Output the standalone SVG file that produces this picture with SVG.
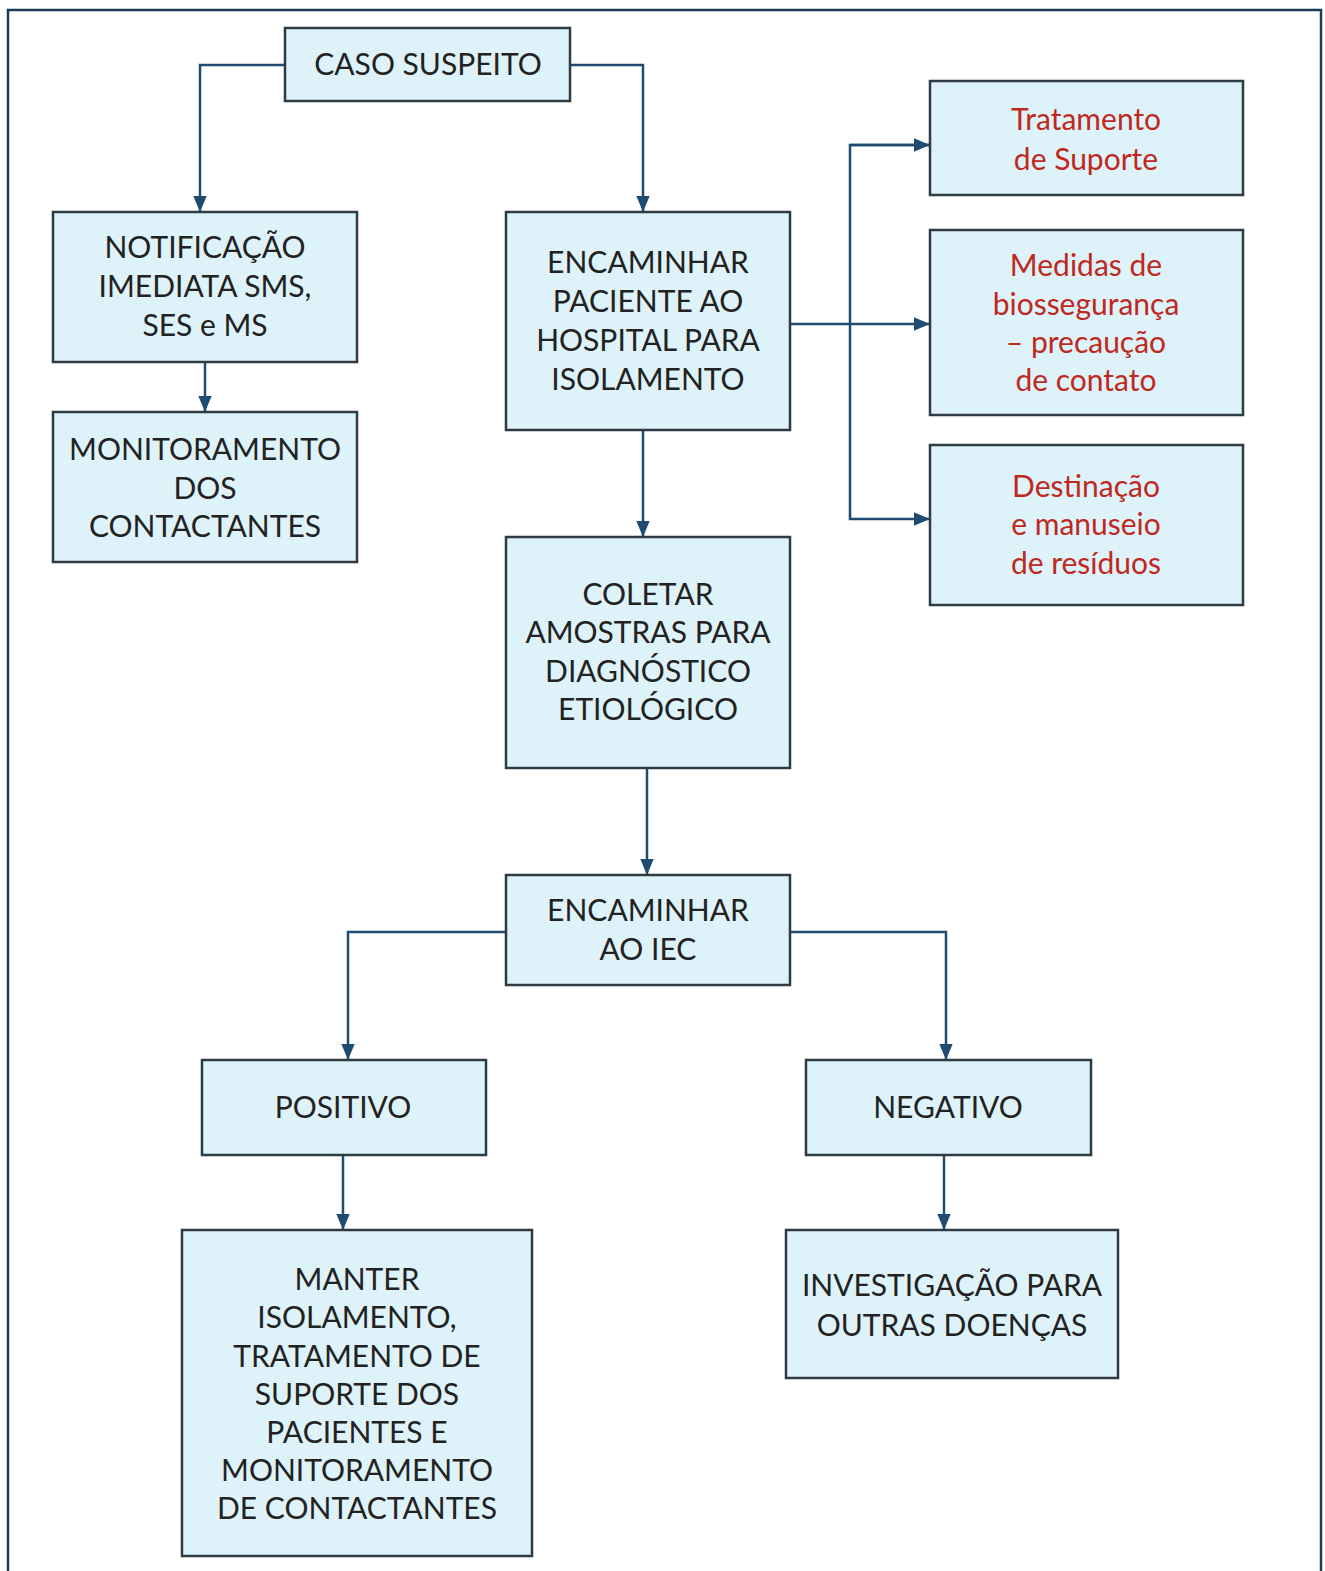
<svg xmlns="http://www.w3.org/2000/svg" width="1325" height="1571" viewBox="0 0 1325 1571">
<defs>
<style>
.box{fill:#def2f9;stroke:#2e3b45;stroke-width:2.5}
.t{font-family:Lato,"Open Sans",sans-serif;font-size:30px;fill:#222;text-anchor:middle}
.r{fill:#c0281e}
.c{fill:none;stroke:#1f4c70;stroke-width:2.5}
</style>
<marker id="a" viewBox="0 0 12 12" refX="12" refY="6" markerWidth="16" markerHeight="16" markerUnits="userSpaceOnUse" orient="auto">
<path d="M0,1 L12,6 L0,11 z" fill="#1f4c70"/>
</marker>
</defs>
<rect width="1325" height="1571" fill="#fff"/>
<path d="M8,1571 V10 H1321 V1571" fill="none" stroke="#1c3a5a" stroke-width="2.5"/>

<g id="connectors">
<path class="c" d="M285,65 H200 V212" marker-end="url(#a)"/>
<path class="c" d="M570,65 H643 V212" marker-end="url(#a)"/>
<path class="c" d="M205,362 V412" marker-end="url(#a)"/>
<path class="c" d="M643,430 V537" marker-end="url(#a)"/>
<path class="c" d="M790,324 H930" marker-end="url(#a)"/>
<path class="c" d="M930,145 H850 V519 H930" marker-end="url(#a)"/>
<path class="c" d="M850,145 H930" marker-end="url(#a)"/>
<path class="c" d="M647,768 V875" marker-end="url(#a)"/>
<path class="c" d="M506,932 H348 V1060" marker-end="url(#a)"/>
<path class="c" d="M790,932 H946 V1060" marker-end="url(#a)"/>
<path class="c" d="M343,1155 V1230" marker-end="url(#a)"/>
<path class="c" d="M944,1155 V1230" marker-end="url(#a)"/>
</g>

<g id="caso">
<rect class="box" x="285" y="28" width="285" height="73"/>
<text class="t" x="428" y="75">CASO SUSPEITO</text>
</g>
<g id="notificacao">
<rect class="box" x="53" y="212" width="304" height="150"/>
<text class="t" x="205" y="258">NOTIFICAÇÃO</text>
<text class="t" x="205" y="297">IMEDIATA SMS,</text>
<text class="t" x="205" y="336">SES e MS</text>
</g>
<g id="monitoramento">
<rect class="box" x="53" y="412" width="304" height="150"/>
<text class="t" x="205" y="460">MONITORAMENTO</text>
<text class="t" x="205" y="499">DOS</text>
<text class="t" x="205" y="537">CONTACTANTES</text>
</g>
<g id="encaminhar">
<rect class="box" x="506" y="212" width="284" height="218"/>
<text class="t" x="648" y="273">ENCAMINHAR</text>
<text class="t" x="648" y="312">PACIENTE AO</text>
<text class="t" x="648" y="351">HOSPITAL PARA</text>
<text class="t" x="648" y="390">ISOLAMENTO</text>
</g>
<g id="coletar">
<rect class="box" x="506" y="537" width="284" height="231"/>
<text class="t" x="648" y="605">COLETAR</text>
<text class="t" x="648" y="643">AMOSTRAS PARA</text>
<text class="t" x="648" y="682">DIAGNÓSTICO</text>
<text class="t" x="648" y="720">ETIOLÓGICO</text>
</g>
<g id="iec">
<rect class="box" x="506" y="875" width="284" height="110"/>
<text class="t" x="648" y="921">ENCAMINHAR</text>
<text class="t" x="648" y="960">AO IEC</text>
</g>
<g id="positivo">
<rect class="box" x="202" y="1060" width="284" height="95"/>
<text class="t" x="343" y="1118">POSITIVO</text>
</g>
<g id="negativo">
<rect class="box" x="806" y="1060" width="285" height="95"/>
<text class="t" x="948" y="1118">NEGATIVO</text>
</g>
<g id="manter">
<rect class="box" x="182" y="1230" width="350" height="326"/>
<text class="t" x="357" y="1290">MANTER</text>
<text class="t" x="357" y="1328">ISOLAMENTO,</text>
<text class="t" x="357" y="1367">TRATAMENTO DE</text>
<text class="t" x="357" y="1405">SUPORTE DOS</text>
<text class="t" x="357" y="1443">PACIENTES E</text>
<text class="t" x="357" y="1481">MONITORAMENTO</text>
<text class="t" x="357" y="1519">DE CONTACTANTES</text>
</g>
<g id="investigacao">
<rect class="box" x="786" y="1230" width="332" height="148"/>
<text class="t" x="952" y="1296">INVESTIGAÇÃO PARA</text>
<text class="t" x="952" y="1336">OUTRAS DOENÇAS</text>
</g>
<g id="tratamento">
<rect class="box" x="930" y="81" width="313" height="114"/>
<text class="t r" x="1086" y="130">Tratamento</text>
<text class="t r" x="1086" y="170">de Suporte</text>
</g>
<g id="medidas">
<rect class="box" x="930" y="230" width="313" height="185"/>
<text class="t r" x="1086" y="276">Medidas de</text>
<text class="t r" x="1086" y="315">biossegurança</text>
<text class="t r" x="1086" y="353">– precaução</text>
<text class="t r" x="1086" y="391">de contato</text>
</g>
<g id="destinacao">
<rect class="box" x="930" y="445" width="313" height="160"/>
<text class="t r" x="1086" y="497">Destinação</text>
<text class="t r" x="1086" y="535">e manuseio</text>
<text class="t r" x="1086" y="574">de resíduos</text>
</g>
</svg>
